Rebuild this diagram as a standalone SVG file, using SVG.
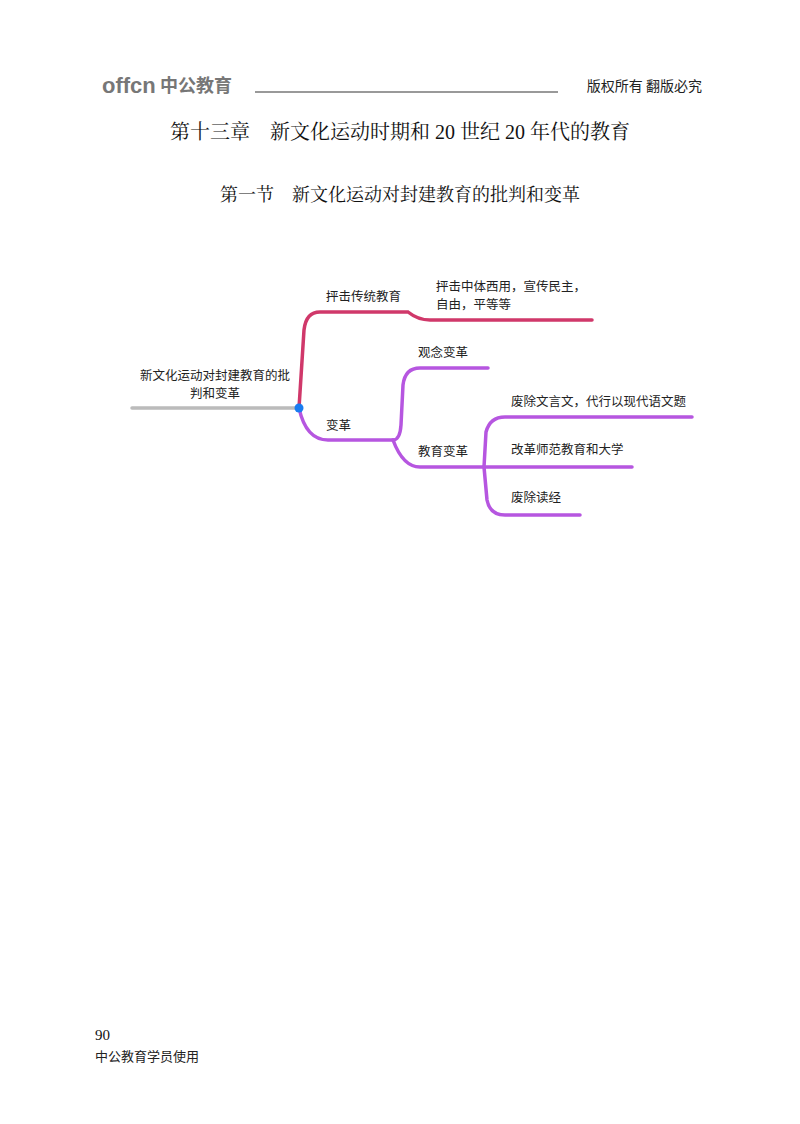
<svg xmlns="http://www.w3.org/2000/svg" width="800" height="1124" viewBox="0 0 800 1124">
<style>
.t{font-family:"Noto Sans CJK SC","Liberation Sans",sans-serif;fill:#222}
.m{font-size:12.5px}
.s{font-family:"Liberation Serif","Noto Serif CJK SC","Noto Sans CJK SC",serif;fill:#111}
.r{fill:none;stroke:#d0386a;stroke-width:3.5;stroke-linecap:round}
.p{fill:none;stroke:#b656e0;stroke-width:3.5;stroke-linecap:round}
</style>
<rect width="800" height="1124" fill="#fff"/>
<g id="header">
<text x="102" y="93" font-family="Liberation Sans,sans-serif" font-size="22" font-weight="bold" fill="#777">offcn</text>
<text x="160" y="92" class="t" font-size="18" font-weight="bold" fill="#777" style="fill:#777">中公教育</text>
<line x1="255" y1="92" x2="558" y2="92" stroke="#777" stroke-width="1.5"/>
<text x="702" y="91" class="t" font-size="14" text-anchor="end">版权所有 翻版必究</text>
</g>
<text x="400" y="139" class="s" font-size="20" text-anchor="middle">第十三章　新文化运动时期和 20 世纪 20 年代的教育</text>
<text x="400" y="201" class="s" font-size="18" text-anchor="middle">第一节　新文化运动对封建教育的批判和变革</text>
<g id="connectors">
<line x1="132" y1="408" x2="298" y2="408" stroke="#bbb" stroke-width="3.5" stroke-linecap="round"/>
<path class="r" d="M299 408 L304 330 Q306 312 320 312 L408 312 Q418 320 430 320 L592 320"/>
<path class="p" d="M299 408 Q306 440 328 440 L393 440 Q400 440 401 425 L403 385 Q405 368 420 368 L488 368"/>
<path class="p" d="M393 440 Q403 467 420 467 L632 467"/>
<path class="p" d="M484 467 L486 432 Q490 417 505 417 L692 417"/>
<path class="p" d="M484 467 L487 500 Q490 515 505 515 L580 515"/>
<circle cx="299" cy="408" r="4.5" fill="#1a7cf0"/>
</g>
<g id="root"><text x="215" y="380" class="t m" text-anchor="middle">新文化运动对封建教育的批</text><text x="215" y="398" class="t m" text-anchor="middle">判和变革</text></g>
<g id="n1"><text x="326" y="301" class="t m">抨击传统教育</text></g>
<g id="n2"><text x="436" y="291" class="t m">抨击中体西用，宣传民主，</text><text x="436" y="309" class="t m">自由，平等等</text></g>
<g id="n3"><text x="326" y="430" class="t m">变革</text></g>
<g id="n4"><text x="418" y="357" class="t m">观念变革</text></g>
<g id="n5"><text x="418" y="456" class="t m">教育变革</text></g>
<g id="n6"><text x="511" y="406" class="t m">废除文言文，代行以现代语文题</text></g>
<g id="n7"><text x="511" y="454" class="t m">改革师范教育和大学</text></g>
<g id="n8"><text x="511" y="502" class="t m">废除读经</text></g>
<g id="footer">
<text x="95" y="1040" class="s" font-size="15">90</text>
<text x="95" y="1061" class="t" font-size="13">中公教育学员使用</text>
</g>
</svg>
